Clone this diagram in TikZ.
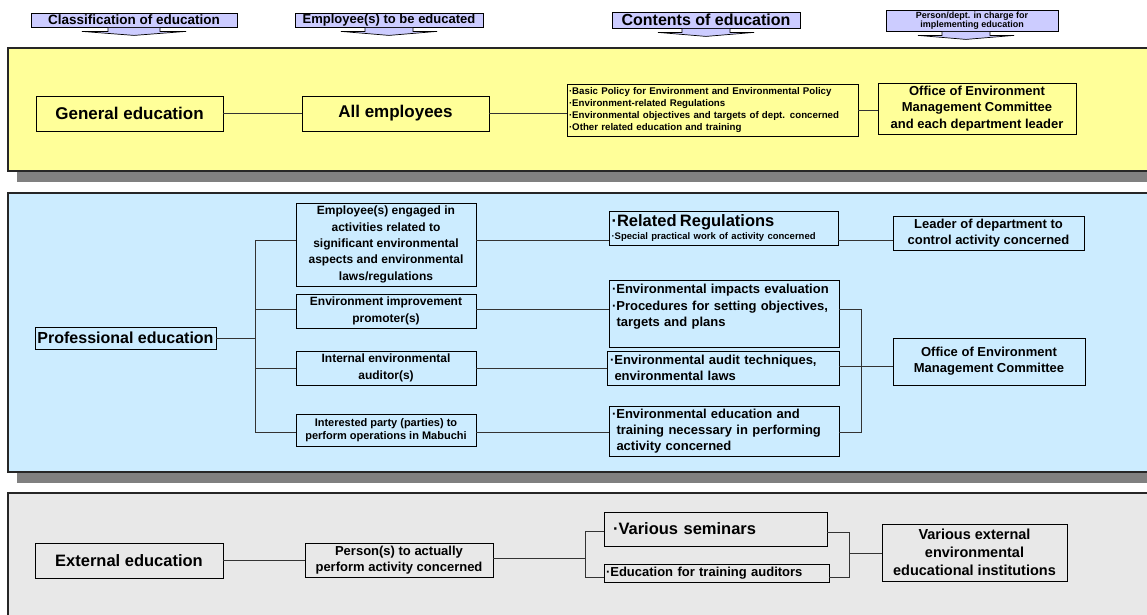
\documentclass[tikz,border=0pt]{standalone}
\usepackage{fontspec}
\setmainfont{Liberation Sans}
\usetikzlibrary{calc, positioning}

\definecolor{hdfill}{RGB}{204,204,255}
\definecolor{genfill}{RGB}{255,255,153}
\definecolor{proffill}{RGB}{204,236,255}
\definecolor{extfill}{RGB}{232,232,232}
\definecolor{shadowgray}{RGB}{128,128,128}

\begin{document}
\begin{tikzpicture}[x=1pt, y=-1pt]
    \tikzset{
        box/.style = {rectangle, draw=black, line width=0.8pt, inner sep=1pt,
                      align=center, font=\bfseries},
        fs/.style 2 args = {font=\bfseries\fontsize{#1}{#2}\selectfont},
        hdbox/.style = {box, fill=hdfill, inner sep=0pt},
        hdarrow/.style = {fill=hdfill, draw=black, line width=0.7pt},
        panel/.style = {draw=black!85, line width=1.1pt},
        line/.style = {draw=black!80, line width=0.9pt}
    }
    \useasboundingbox (0,0) rectangle (1147,614);

    % header boxes
    \node[hdbox, fs={13.5}{15}, minimum width=206pt, minimum height=14pt] (hdclass) at (134,20) {Classification of education};
    \node[hdbox, fs={13}{15}, minimum width=188pt, minimum height=14pt] (hdemp) at (389,20) {Employee(s) to be educated};
    \node[hdbox, fs={16}{18}, minimum width=188pt, minimum height=16pt] (hdcont) at (706,20) {Contents of education};
    \node[hdbox, fs={9}{9.5}, minimum width=172pt, minimum height=21pt] (hdresp) at (972,20.5) {Person/dept. in charge for\\implementing education};

    % header arrows
    \filldraw[hdarrow] ($(hdclass.south)+(-26,0.4)$) -- ++(0,3.6) -- ++(-26,0) -- ++(52,4) -- ++(52,-4) -- ++(-26,0) -- ++(0,-3.6);
    \filldraw[hdarrow] ($(hdemp.south)+(-24,0.4)$) -- ++(0,3.6) -- ++(-24,0) -- ++(48,4) -- ++(48,-4) -- ++(-24,0) -- ++(0,-3.6);
    \filldraw[hdarrow] ($(hdcont.south)+(-24,0.4)$) -- ++(0,3.6) -- ++(-24,0) -- ++(48,4) -- ++(48,-4) -- ++(-24,0) -- ++(0,-3.6);
    \filldraw[hdarrow] ($(hdresp.south)+(-30,0.4)$) -- ++(0,3.6) -- ++(-24,0) -- ++(48,4) -- ++(48,-4) -- ++(-24,0) -- ++(0,-3.6);

    % panels
    \fill[shadowgray] (17,57) rectangle (1160,182);
    \filldraw[panel, fill=genfill] (8,48) rectangle (1160,171);
    \fill[shadowgray] (17,202) rectangle (1160,483);
    \filldraw[panel, fill=proffill] (8,193) rectangle (1160,472);
    \filldraw[panel, fill=extfill] (8,493) rectangle (1160,630);

    % general education
    \node[box, fs={17}{20}, minimum width=187pt, minimum height=35pt] (gened) at (129.5,113.5) {General education};
    \node[box, fs={17}{20}, minimum width=187pt, minimum height=35pt] (allemp) at (395.5,113.5) {All employees};
    \node[box, fs={9.7}{12}, align=left, text width=287pt, inner xsep=2pt, minimum height=52pt] (genlist) at (712.5,110) {·Basic Policy for Environment and Environmental Policy\\·Environment-related Regulations\\·Environmental objectives and targets of dept. concerned\\·Other related education and training};
    \node[box, fs={13}{16.5}, minimum width=198pt, minimum height=51pt] (genoffice) at (977,108.5) {Office of Environment\\Management Committee\\and each department leader};

    \draw[line] (gened) -- (allemp);
    \draw[line] (allemp.east) -- (allemp.east -| genlist.west);
    \draw[line] (genlist.east) -- (genlist.east -| genoffice.west);

    % professional education
    \node[box, fs={16}{18}, inner sep=1.5pt, minimum width=181pt, minimum height=22pt] (profed) at (125.5,338) {Professional education};
    \node[box, fs={12}{16.3}, minimum width=180pt, minimum height=83pt] (engaged) at (386,244.5) {Employee(s) engaged in\\activities related to\\significant environmental\\aspects and environmental\\laws/regulations};
    \node[box, fs={12}{16.3}, minimum width=180pt, minimum height=34pt] (promoter) at (386,311) {Environment improvement\\promoter(s)};
    \node[box, fs={12}{16.3}, minimum width=180pt, minimum height=34pt] (auditor) at (386,368) {Internal environmental\\auditor(s)};
    \node[box, fs={11}{13.5}, minimum width=180pt, minimum height=32pt] (party) at (386,430) {Interested party (parties) to\\perform operations in Mabuchi};

    \node[box, align=left, text width=224pt, inner xsep=2.5pt, minimum height=34pt] (regs) at (723.5,228) {{\fontsize{16.5}{17}\selectfont ·Related Regulations}\\[1pt]{\fontsize{9.5}{10}\selectfont ·Special practical work of activity concerned}};
    \node[box, fs={13}{16.3}, align=left, text width=224pt, inner xsep=3pt, minimum height=67pt] (impacts) at (724,313.5) {·Environmental impacts evaluation\\·Procedures for setting objectives,\\\hspace*{4.5pt}targets and plans\rule[-16pt]{0pt}{0pt}};
    \node[box, fs={13}{16.3}, align=left, text width=226pt, inner xsep=3pt, minimum height=34pt] (audittech) at (723,368) {·Environmental audit techniques,\\\hspace*{4.5pt}environmental laws};
    \node[box, fs={13}{16.3}, align=left, text width=224pt, inner xsep=3pt, minimum height=50pt] (eduneed) at (724,431) {·Environmental education and\\\hspace*{4.5pt}training necessary in performing\\\hspace*{4.5pt}activity concerned};

    \node[box, fs={13}{16}, minimum width=191pt, minimum height=34pt] (leader) at (988.5,233) {Leader of department to\\control activity concerned};
    \node[box, fs={13}{16}, minimum width=192pt, minimum height=47pt] (profoffice) at (989,361.5) {Office of Environment\\Management Committee};

    % left bus
    \coordinate (pbmid) at (255,338);
    \coordinate (pbtop) at (255,240);
    \coordinate (lvb) at (255,309);
    \coordinate (lvc) at (255,368);
    \coordinate (pbbot) at (255,432);
    \draw[line] (profed) -- (pbmid);
    \draw[line] (pbtop) -- (pbbot);
    \draw[line] (pbtop) -- (pbtop -| engaged.west);
    \draw[line] (lvb) -- (lvb -| promoter.west);
    \draw[line] (lvc) -- (lvc -| auditor.west);
    \draw[line] (pbbot) -- (pbbot -| party.west);
    \draw[line] (pbtop -| engaged.east) -- (pbtop -| regs.west);
    \draw[line] (lvb -| promoter.east) -- (lvb -| impacts.west);
    \draw[line] (lvc -| auditor.east) -- (lvc -| audittech.west);
    \draw[line] (pbbot -| party.east) -- (pbbot -| eduneed.west);
    \draw[line] (pbtop -| regs.east) -- (pbtop -| leader.west);

    % right bus
    \coordinate (rbtop) at (861,309);
    \coordinate (rbmid) at (861,366);
    \coordinate (rbbot) at (861,432);
    \draw[line] (impacts.east |- rbtop) -- (rbtop) -- (rbbot) -- (eduneed.east |- rbbot);
    \draw[line] (audittech.east |- rbmid) -- (profoffice.west |- rbmid);

    % external education
    \node[box, fs={16.5}{19}, minimum width=188pt, minimum height=35pt] (exted) at (129,560.5) {External education};
    \node[box, fs={13}{16}, minimum width=188pt, minimum height=34pt] (performer) at (399,560) {Person(s) to actually\\perform activity concerned};
    \node[box, fs={16.5}{18}, align=left, text width=205pt, inner xsep=9pt, minimum height=34pt] (seminars) at (715.5,529) {·Various seminars};
    \node[box, fs={13}{14}, align=left, text width=221pt, inner xsep=2pt, inner ysep=0pt, minimum height=18pt] (auditedu) at (716.5,573) {·Education for training auditors};
    \node[box, fs={14.5}{18}, minimum width=185pt, minimum height=57pt] (institutes) at (974.5,552.5) {Various external\\environmental\\educational institutions};

    \coordinate (ebtop) at (585,531);
    \coordinate (ebmid) at (585,558);
    \coordinate (ebbot) at (585,577);
    \coordinate (xbtop) at (849,532);
    \coordinate (xbmid) at (849,553);
    \coordinate (xbbot) at (849,577);
    \draw[line] (exted.east) -- (exted.east -| performer.west);
    \draw[line] (performer.east |- ebmid) -- (ebmid);
    \draw[line] (seminars.west |- ebtop) -- (ebtop) -- (ebbot) -- (auditedu.west |- ebbot);
    \draw[line] (seminars.east |- xbtop) -- (xbtop) -- (xbbot) -- (auditedu.east |- xbbot);
    \draw[line] (xbmid) -- (institutes.west |- xbmid);
\end{tikzpicture}
\end{document}
